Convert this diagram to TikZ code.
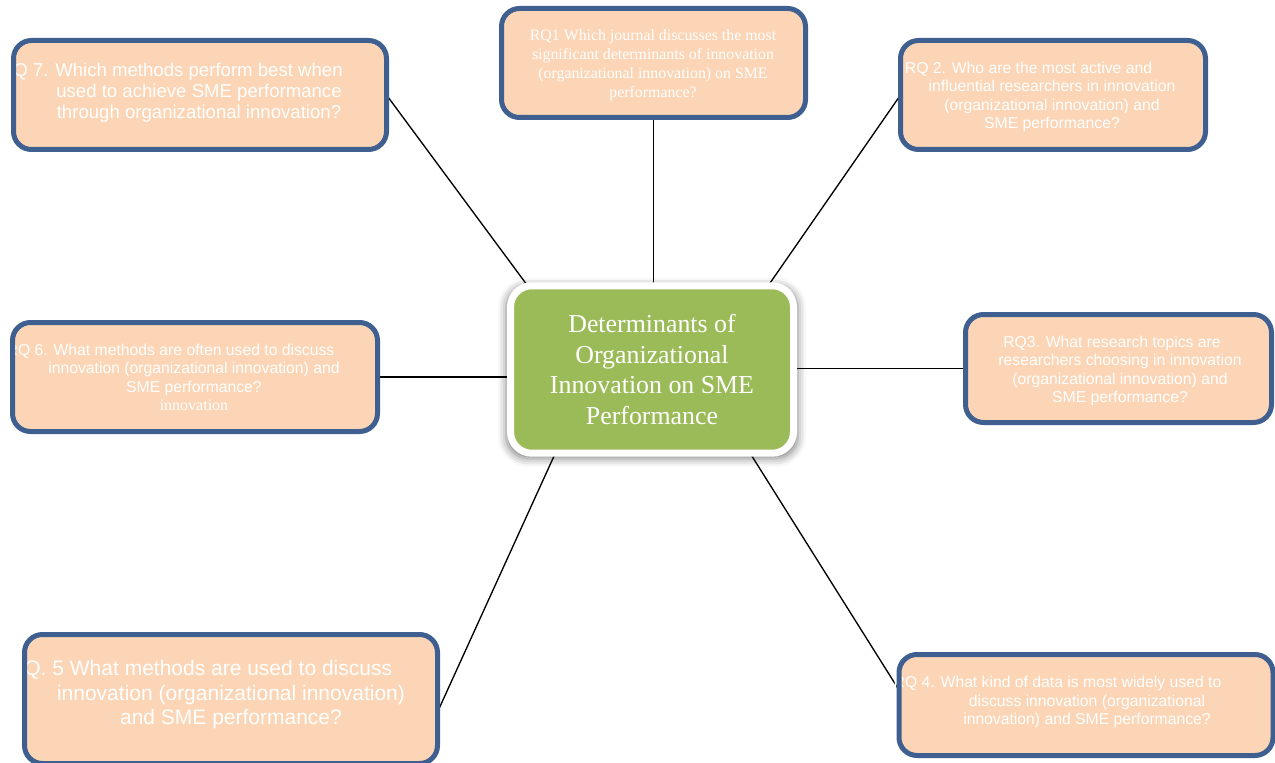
\documentclass[tikz,border=0pt]{standalone}
\usepackage{fontspec}
\setmainfont{Liberation Serif}
\newfontfamily\arialf{Liberation Sans}
\usetikzlibrary{calc,shadows.blur,backgrounds}
\definecolor{peach}{HTML}{FBD5B5}
\definecolor{rqblue}{HTML}{3E5F8F}
\definecolor{leaf}{HTML}{9BBB59}
\begin{document}
\begin{tikzpicture}[x=0.75pt,y=-0.75pt,
  rqbox/.style={rectangle, rounded corners=13.5pt, fill=peach, outer sep=0pt, inner sep=0pt},
  rqedge/.style={draw=rqblue, line width=3.75pt, rounded corners=13.5pt},
  rqtext/.style={text=white, align=center, inner sep=0pt},
  sanssmall/.style={font=\arialf\fontsize{11.8}{13.75}\selectfont},
  link/.style={draw=black, line width=1pt},
]
\useasboundingbox (0,0) rectangle (1275,763);

% RQ boxes (fill)
\node[rqbox, minimum width=279.75pt, minimum height=81.75pt] (rq7) at (200,95) {};
\node[rqbox, minimum width=228pt, minimum height=81.75pt] (rq1) at (653.5,63) {};
\node[rqbox, minimum width=228.75pt, minimum height=81.75pt] (rq2) at (1053,95) {};
\node[rqbox, minimum width=273.75pt, minimum height=81.75pt] (rq6) at (195,377) {};
\node[rqbox, minimum width=229.5pt, minimum height=81pt] (rq3) at (1118.5,368.5) {};
\node[rqbox, minimum width=309.75pt, minimum height=96.75pt] (rq5) at (231,699) {};
\node[rqbox, minimum width=280.5pt, minimum height=75.75pt] (rq4) at (1086,705) {};

% texts
\node[rqtext, font=\arialf\fontsize{13.95}{15.75}\selectfont] (rq7t) at (199,93)
  {\llap{RQ 7. }Which methods perform best when\\used to achieve SME performance\\through organizational innovation?};
\node[rqtext, font=\fontsize{11.9}{14.25}\selectfont] (rq1t) at (653,65.5)
  {RQ1 Which journal discusses the most\\significant determinants of innovation\\(organizational innovation) on SME\\performance?};
\node[rqtext, sanssmall] (rq2t) at (1052,97)
  {\llap{RQ 2. }Who are the most active and\\influential researchers in innovation\\(organizational innovation) and\\SME performance?};
\node[rqtext, sanssmall] (rq3t) at (1120,371)
  {RQ3. What research topics are\hspace*{12pt}\\researchers choosing in innovation\\(organizational innovation) and\\SME performance?};
\node[rqtext, sanssmall] (rq6t) at (194,377.5)
  {\llap{RQ 6. }What methods are often used to discuss\\innovation (organizational innovation) and\\SME performance?\\{\rmfamily\fontsize{12}{13.75}\selectfont innovation}};
\node[rqtext, font=\arialf\fontsize{15.75}{18.4}\selectfont] (rq5t) at (231,695)
  {\llap{RQ. 5 }What methods are used to discuss\\innovation (organizational innovation)\\and SME performance?};
\node[rqtext, sanssmall] (rq4t) at (1087,702)
  {\llap{RQ 4. }What kind of data is most widely used to\hspace*{9pt}\\discuss innovation (organizational\\innovation) and SME performance?};

% borders on top
\foreach \b in {rq7,rq1,rq2,rq6,rq3,rq5,rq4}
  \draw[rqedge] (\b.south west) rectangle (\b.north east);

% central node
\node[fill=leaf, draw=white, line width=5.25pt, rounded corners=16pt,
      minimum width=212.25pt, minimum height=125.6pt,
      blur shadow={shadow xshift=0pt, shadow yshift=-2pt, shadow blur radius=6pt, shadow opacity=50, shadow scale=1.03},
      text=white, align=center, font=\fontsize{19.4}{23.2}\selectfont] (ctr) at (652,369.5)
  {Determinants of\\Organizational\\Innovation on SME\\Performance};

% connectors
\begin{scope}[on background layer]
\draw[link] (rq7.east) -- ($(ctr.north west)+(38,27)$);
\draw[link] (rq1.south) -- (rq1.south |- ctr.center);
\draw[link] (rq2.west) -- ($(ctr.north east)+(-41,21)$);
\draw[link] (rq6.east) -- (rq6.east -| ctr.center);
\draw[link] (rq3.west) -- (rq3.west -| ctr.center);
\draw[link] ($(rq5.east)+(0,13)$) -- ($(ctr.south west)+(54,-16)$);
\draw[link] ($(rq4.west)+(0,-15)$) -- ($(ctr.south east)+(-53.5,-14)$);
\end{scope}
\end{tikzpicture}
\end{document}
